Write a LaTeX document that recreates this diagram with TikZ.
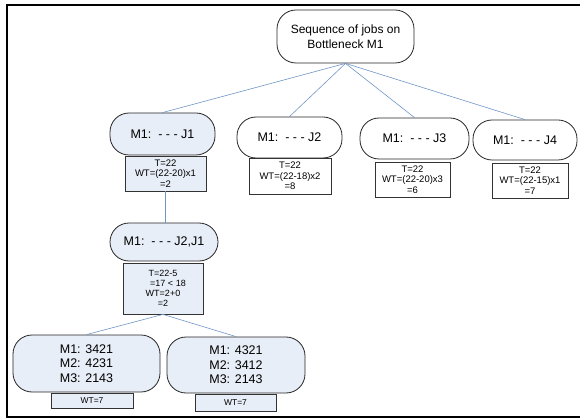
\documentclass[tikz,border=0pt]{standalone}
\usepackage{fontspec}
\setmainfont{Liberation Sans}
\usepackage{xcolor}
\usepackage{tikz}
\definecolor{Hellblau}{HTML}{E8EEF7}
\definecolor{Linienblau}{HTML}{7096C4}
\tikzset{
  Job/.style={draw=black!85, line width=0.8pt, rounded corners=19pt, align=center,
    inner sep=1pt, font=\fontsize{12.5}{14.5}\selectfont}, % for job nodes
  Info/.style={draw=black!80, line width=0.8pt, align=center, inner sep=1pt,
    font=\fontsize{9.5}{10.5}\selectfont}, % for value boxes
  Kante/.style={draw=Linienblau, line width=0.6pt} % for connectors
}

\begin{document}
\begin{tikzpicture}[x=1pt, y=-1pt]
\useasboundingbox (0,0) rectangle (580,419);

%Rahmen
\draw[line width=2pt] (580,5) -- (7,5) -- (7,417) -- (580,417);

%Knoten
\node[Job, minimum width=137pt, minimum height=53pt, font=\fontsize{12}{15}\selectfont]
  (Root) at (345.5,36.5) {Sequence of jobs on\\Bottleneck M1};

\node[Job, fill=Hellblau, minimum width=105pt, minimum height=42pt] (J1) at (162.5,134) {M1:\ \ - - - J1};
\node[Job, minimum width=105pt, minimum height=41pt] (J2) at (289.5,137.5) {M1:\ \ - - - J2};
\node[Job, minimum width=109pt, minimum height=41pt] (J3) at (414.5,138.5) {M1:\ \ - - - J3};
\node[Job, minimum width=104pt, minimum height=40pt] (J4) at (525,140) {M1:\ \ - - - J4};

\node[Info, fill=Hellblau, minimum width=81pt, minimum height=35pt] (I1) at (165.5,173.5) {T=22\\WT=(22-20)x1\\=2};
\node[Info, minimum width=82pt, minimum height=36pt] (I2) at (290,176) {T=22\\WT=(22-18)x2\\=8};
\node[Info, minimum width=75pt, minimum height=35pt] (I3) at (412.5,179.5) {T=22\\WT=(22-20)x3\\=6};
\node[Info, minimum width=76pt, minimum height=35pt] (I4) at (530,180.5) {T=22\\WT=(22-15)x1\\=7};

\node[Job, fill=Hellblau, minimum width=108pt, minimum height=38pt] (J21) at (164,242) {M1:\ \ - - - J2,J1};
\node[Info, fill=Hellblau, minimum width=80pt, minimum height=51pt, font=\fontsize{9}{9.8}\selectfont]
  (I21) at (163,288.5) {T=22-5\\\hspace*{10pt}=17 < 18\\WT=2+0\\=2};

\node[Job, fill=Hellblau, minimum width=147pt, minimum height=57pt] (S1) at (86.5,363.5) {M1: 3421\\M2: 4231\\M3: 2143};
\node[Job, fill=Hellblau, minimum width=138pt, minimum height=56pt] (S2) at (236,365) {M1: 4321\\M2: 3412\\M3: 2143};
\node[Info, fill=Hellblau, minimum width=82pt, minimum height=15pt, font=\fontsize{8.5}{10}\selectfont] (W1) at (92,400.5) {WT=7};
\node[Info, fill=Hellblau, minimum width=81pt, minimum height=17pt, font=\fontsize{8.5}{10}\selectfont] (W2) at (235.5,402.5) {WT=7};

%Verbindungen
\foreach \j in {J1,J2,J3,J4}
  \draw[Kante] (Root.south) -- (\j.north);
\draw[Kante] (I1.south) -- (I1.south |- J21.north);
\draw[Kante] (I21.south) -- (S1.north);
\draw[Kante] (I21.south) -- (S2.north);

\end{tikzpicture}
\end{document}
